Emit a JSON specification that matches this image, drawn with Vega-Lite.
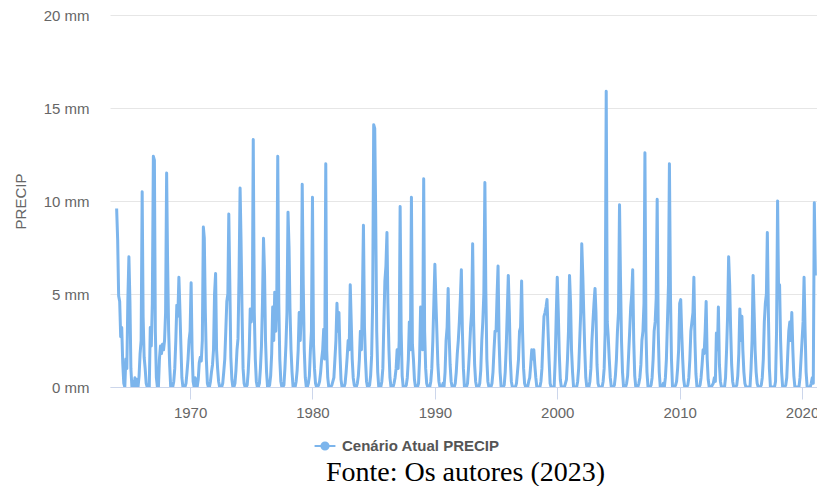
{
"$schema":"https://vega.github.io/schema/vega-lite/v6.json",
"width":707,"height":372,
"autosize":"none",
"padding":{"left":110,"top":15,"right":0,"bottom":99},
"background":"white",
"data":{"values":[
{"t":"1964-01","p":9.6},{"t":"1964-02","p":7.9},{"t":"1964-03","p":4.9},{"t":"1964-04","p":4.6},{"t":"1964-05","p":2.7},{"t":"1964-06","p":3.2},{"t":"1964-07","p":1.3},{"t":"1964-08","p":0.2},{"t":"1964-09","p":0.0},{"t":"1964-10","p":1.5},{"t":"1964-11","p":1.0},{"t":"1964-12","p":4.7},
{"t":"1965-01","p":7.0},{"t":"1965-02","p":4.6},{"t":"1965-03","p":1.0},{"t":"1965-04","p":0.0},{"t":"1965-05","p":0.3},{"t":"1965-06","p":0.0},{"t":"1965-07","p":0.5},{"t":"1965-08","p":0.0},{"t":"1965-09","p":0.4},{"t":"1965-10","p":0.0},{"t":"1965-11","p":0.6},{"t":"1965-12","p":1.8},
{"t":"1966-01","p":2.5},{"t":"1966-02","p":10.5},{"t":"1966-03","p":3.8},{"t":"1966-04","p":1.6},{"t":"1966-05","p":1.0},{"t":"1966-06","p":0.2},{"t":"1966-07","p":0.0},{"t":"1966-08","p":0.0},{"t":"1966-09","p":0.0},{"t":"1966-10","p":3.2},{"t":"1966-11","p":2.2},{"t":"1966-12","p":4.5},
{"t":"1967-01","p":12.4},{"t":"1967-02","p":12.2},{"t":"1967-03","p":3.0},{"t":"1967-04","p":0.5},{"t":"1967-05","p":0.0},{"t":"1967-06","p":0.0},{"t":"1967-07","p":1.5},{"t":"1967-08","p":2.2},{"t":"1967-09","p":1.8},{"t":"1967-10","p":2.3},{"t":"1967-11","p":2.0},{"t":"1967-12","p":2.5},
{"t":"1968-01","p":4.0},{"t":"1968-02","p":11.5},{"t":"1968-03","p":6.7},{"t":"1968-04","p":3.0},{"t":"1968-05","p":1.2},{"t":"1968-06","p":0.0},{"t":"1968-07","p":0.0},{"t":"1968-08","p":0.0},{"t":"1968-09","p":0.3},{"t":"1968-10","p":1.0},{"t":"1968-11","p":2.5},{"t":"1968-12","p":4.4},
{"t":"1969-01","p":3.8},{"t":"1969-02","p":5.9},{"t":"1969-03","p":4.3},{"t":"1969-04","p":2.3},{"t":"1969-05","p":0.5},{"t":"1969-06","p":0.0},{"t":"1969-07","p":0.0},{"t":"1969-08","p":0.0},{"t":"1969-09","p":0.2},{"t":"1969-10","p":0.8},{"t":"1969-11","p":1.5},{"t":"1969-12","p":2.5},
{"t":"1970-01","p":3.0},{"t":"1970-02","p":5.6},{"t":"1970-03","p":2.0},{"t":"1970-04","p":0.3},{"t":"1970-05","p":0.0},{"t":"1970-06","p":0.5},{"t":"1970-07","p":0.1},{"t":"1970-08","p":0.0},{"t":"1970-09","p":0.4},{"t":"1970-10","p":1.3},{"t":"1970-11","p":1.6},{"t":"1970-12","p":1.4},
{"t":"1971-01","p":2.5},{"t":"1971-02","p":8.6},{"t":"1971-03","p":8.0},{"t":"1971-04","p":4.0},{"t":"1971-05","p":1.5},{"t":"1971-06","p":0.2},{"t":"1971-07","p":0.0},{"t":"1971-08","p":0.0},{"t":"1971-09","p":0.3},{"t":"1971-10","p":0.8},{"t":"1971-11","p":1.2},{"t":"1971-12","p":2.0},
{"t":"1972-01","p":5.0},{"t":"1972-02","p":6.1},{"t":"1972-03","p":2.0},{"t":"1972-04","p":1.0},{"t":"1972-05","p":0.3},{"t":"1972-06","p":0.0},{"t":"1972-07","p":0.0},{"t":"1972-08","p":0.0},{"t":"1972-09","p":0.2},{"t":"1972-10","p":0.8},{"t":"1972-11","p":1.5},{"t":"1972-12","p":3.0},
{"t":"1973-01","p":4.6},{"t":"1973-02","p":5.0},{"t":"1973-03","p":9.3},{"t":"1973-04","p":5.5},{"t":"1973-05","p":1.6},{"t":"1973-06","p":0.4},{"t":"1973-07","p":0.0},{"t":"1973-08","p":0.0},{"t":"1973-09","p":0.2},{"t":"1973-10","p":0.9},{"t":"1973-11","p":2.0},{"t":"1973-12","p":2.6},
{"t":"1974-01","p":6.0},{"t":"1974-02","p":10.7},{"t":"1974-03","p":7.9},{"t":"1974-04","p":4.0},{"t":"1974-05","p":1.0},{"t":"1974-06","p":0.2},{"t":"1974-07","p":0.0},{"t":"1974-08","p":0.0},{"t":"1974-09","p":0.1},{"t":"1974-10","p":0.8},{"t":"1974-11","p":2.0},{"t":"1974-12","p":4.2},
{"t":"1975-01","p":3.5},{"t":"1975-02","p":4.2},{"t":"1975-03","p":13.3},{"t":"1975-04","p":4.0},{"t":"1975-05","p":1.5},{"t":"1975-06","p":0.3},{"t":"1975-07","p":0.0},{"t":"1975-08","p":0.0},{"t":"1975-09","p":0.2},{"t":"1975-10","p":1.0},{"t":"1975-11","p":2.2},{"t":"1975-12","p":4.5},
{"t":"1976-01","p":8.0},{"t":"1976-02","p":6.1},{"t":"1976-03","p":2.5},{"t":"1976-04","p":0.8},{"t":"1976-05","p":0.0},{"t":"1976-06","p":0.0},{"t":"1976-07","p":0.1},{"t":"1976-08","p":0.6},{"t":"1976-09","p":1.8},{"t":"1976-10","p":4.3},{"t":"1976-11","p":2.5},{"t":"1976-12","p":5.1},
{"t":"1977-01","p":3.0},{"t":"1977-02","p":5.0},{"t":"1977-03","p":12.4},{"t":"1977-04","p":4.5},{"t":"1977-05","p":1.5},{"t":"1977-06","p":0.3},{"t":"1977-07","p":0.0},{"t":"1977-08","p":0.0},{"t":"1977-09","p":0.1},{"t":"1977-10","p":1.0},{"t":"1977-11","p":2.3},{"t":"1977-12","p":4.0},
{"t":"1978-01","p":9.4},{"t":"1978-02","p":7.5},{"t":"1978-03","p":4.2},{"t":"1978-04","p":2.0},{"t":"1978-05","p":0.8},{"t":"1978-06","p":0.0},{"t":"1978-07","p":0.0},{"t":"1978-08","p":0.0},{"t":"1978-09","p":0.3},{"t":"1978-10","p":0.9},{"t":"1978-11","p":2.0},{"t":"1978-12","p":4.0},
{"t":"1979-01","p":2.5},{"t":"1979-02","p":4.0},{"t":"1979-03","p":10.9},{"t":"1979-04","p":5.5},{"t":"1979-05","p":2.0},{"t":"1979-06","p":0.5},{"t":"1979-07","p":0.0},{"t":"1979-08","p":0.0},{"t":"1979-09","p":0.2},{"t":"1979-10","p":0.6},{"t":"1979-11","p":2.0},{"t":"1979-12","p":3.0},
{"t":"1980-01","p":10.2},{"t":"1980-02","p":2.3},{"t":"1980-03","p":1.0},{"t":"1980-04","p":0.2},{"t":"1980-05","p":0.0},{"t":"1980-06","p":0.0},{"t":"1980-07","p":0.1},{"t":"1980-08","p":0.3},{"t":"1980-09","p":0.8},{"t":"1980-10","p":1.5},{"t":"1980-11","p":2.0},{"t":"1980-12","p":3.1},
{"t":"1981-01","p":1.5},{"t":"1981-02","p":12.0},{"t":"1981-03","p":2.0},{"t":"1981-04","p":0.5},{"t":"1981-05","p":0.0},{"t":"1981-06","p":0.0},{"t":"1981-07","p":0.0},{"t":"1981-08","p":0.1},{"t":"1981-09","p":0.3},{"t":"1981-10","p":0.5},{"t":"1981-11","p":1.5},{"t":"1981-12","p":2.5},
{"t":"1982-01","p":4.5},{"t":"1982-02","p":3.0},{"t":"1982-03","p":4.0},{"t":"1982-04","p":1.8},{"t":"1982-05","p":0.4},{"t":"1982-06","p":0.0},{"t":"1982-07","p":0.0},{"t":"1982-08","p":0.0},{"t":"1982-09","p":0.2},{"t":"1982-10","p":0.8},{"t":"1982-11","p":1.6},{"t":"1982-12","p":2.5},
{"t":"1983-01","p":2.0},{"t":"1983-02","p":5.5},{"t":"1983-03","p":3.6},{"t":"1983-04","p":1.5},{"t":"1983-05","p":0.5},{"t":"1983-06","p":0.1},{"t":"1983-07","p":0.0},{"t":"1983-08","p":0.0},{"t":"1983-09","p":0.2},{"t":"1983-10","p":0.6},{"t":"1983-11","p":1.5},{"t":"1983-12","p":3.0},
{"t":"1984-01","p":2.0},{"t":"1984-02","p":5.0},{"t":"1984-03","p":8.7},{"t":"1984-04","p":3.2},{"t":"1984-05","p":1.5},{"t":"1984-06","p":0.3},{"t":"1984-07","p":0.0},{"t":"1984-08","p":0.0},{"t":"1984-09","p":0.1},{"t":"1984-10","p":0.6},{"t":"1984-11","p":1.7},{"t":"1984-12","p":4.5},
{"t":"1985-01","p":14.1},{"t":"1985-02","p":13.9},{"t":"1985-03","p":9.4},{"t":"1985-04","p":3.0},{"t":"1985-05","p":0.8},{"t":"1985-06","p":0.0},{"t":"1985-07","p":0.0},{"t":"1985-08","p":0.0},{"t":"1985-09","p":0.3},{"t":"1985-10","p":1.0},{"t":"1985-11","p":3.5},{"t":"1985-12","p":5.7},
{"t":"1986-01","p":6.5},{"t":"1986-02","p":8.3},{"t":"1986-03","p":4.5},{"t":"1986-04","p":2.0},{"t":"1986-05","p":0.5},{"t":"1986-06","p":0.0},{"t":"1986-07","p":0.0},{"t":"1986-08","p":0.0},{"t":"1986-09","p":0.2},{"t":"1986-10","p":0.5},{"t":"1986-11","p":1.0},{"t":"1986-12","p":2.0},
{"t":"1987-01","p":1.0},{"t":"1987-02","p":2.5},{"t":"1987-03","p":9.7},{"t":"1987-04","p":3.0},{"t":"1987-05","p":0.6},{"t":"1987-06","p":0.0},{"t":"1987-07","p":0.0},{"t":"1987-08","p":0.0},{"t":"1987-09","p":0.1},{"t":"1987-10","p":0.5},{"t":"1987-11","p":1.5},{"t":"1987-12","p":3.5},
{"t":"1988-01","p":2.0},{"t":"1988-02","p":10.2},{"t":"1988-03","p":2.3},{"t":"1988-04","p":1.5},{"t":"1988-05","p":0.4},{"t":"1988-06","p":0.0},{"t":"1988-07","p":0.0},{"t":"1988-08","p":0.0},{"t":"1988-09","p":0.2},{"t":"1988-10","p":1.5},{"t":"1988-11","p":4.3},{"t":"1988-12","p":3.0},
{"t":"1989-01","p":2.0},{"t":"1989-02","p":11.2},{"t":"1989-03","p":3.0},{"t":"1989-04","p":1.0},{"t":"1989-05","p":0.2},{"t":"1989-06","p":0.0},{"t":"1989-07","p":0.0},{"t":"1989-08","p":0.0},{"t":"1989-09","p":0.3},{"t":"1989-10","p":1.0},{"t":"1989-11","p":2.5},{"t":"1989-12","p":4.5},
{"t":"1990-01","p":6.6},{"t":"1990-02","p":4.6},{"t":"1990-03","p":3.0},{"t":"1990-04","p":1.2},{"t":"1990-05","p":0.3},{"t":"1990-06","p":0.0},{"t":"1990-07","p":0.0},{"t":"1990-08","p":0.0},{"t":"1990-09","p":0.2},{"t":"1990-10","p":0.0},{"t":"1990-11","p":0.8},{"t":"1990-12","p":2.5},
{"t":"1991-01","p":3.2},{"t":"1991-02","p":5.3},{"t":"1991-03","p":2.8},{"t":"1991-04","p":1.2},{"t":"1991-05","p":0.3},{"t":"1991-06","p":0.0},{"t":"1991-07","p":0.0},{"t":"1991-08","p":0.0},{"t":"1991-09","p":0.2},{"t":"1991-10","p":0.8},{"t":"1991-11","p":1.8},{"t":"1991-12","p":2.5},
{"t":"1992-01","p":3.5},{"t":"1992-02","p":4.8},{"t":"1992-03","p":6.3},{"t":"1992-04","p":3.0},{"t":"1992-05","p":1.0},{"t":"1992-06","p":0.0},{"t":"1992-07","p":0.0},{"t":"1992-08","p":0.0},{"t":"1992-09","p":0.2},{"t":"1992-10","p":1.0},{"t":"1992-11","p":2.0},{"t":"1992-12","p":3.2},
{"t":"1993-01","p":4.0},{"t":"1993-02","p":7.7},{"t":"1993-03","p":3.6},{"t":"1993-04","p":1.2},{"t":"1993-05","p":0.3},{"t":"1993-06","p":0.0},{"t":"1993-07","p":0.0},{"t":"1993-08","p":0.0},{"t":"1993-09","p":0.2},{"t":"1993-10","p":0.9},{"t":"1993-11","p":2.5},{"t":"1993-12","p":3.5},
{"t":"1994-01","p":5.0},{"t":"1994-02","p":11.0},{"t":"1994-03","p":5.2},{"t":"1994-04","p":1.5},{"t":"1994-05","p":0.3},{"t":"1994-06","p":0.0},{"t":"1994-07","p":0.0},{"t":"1994-08","p":0.0},{"t":"1994-09","p":0.2},{"t":"1994-10","p":0.8},{"t":"1994-11","p":2.0},{"t":"1994-12","p":3.0},
{"t":"1995-01","p":3.0},{"t":"1995-02","p":5.0},{"t":"1995-03","p":6.5},{"t":"1995-04","p":2.5},{"t":"1995-05","p":0.8},{"t":"1995-06","p":0.0},{"t":"1995-07","p":0.0},{"t":"1995-08","p":0.0},{"t":"1995-09","p":0.1},{"t":"1995-10","p":0.8},{"t":"1995-11","p":2.2},{"t":"1995-12","p":4.0},
{"t":"1996-01","p":6.0},{"t":"1996-02","p":4.0},{"t":"1996-03","p":1.5},{"t":"1996-04","p":0.3},{"t":"1996-05","p":0.0},{"t":"1996-06","p":0.0},{"t":"1996-07","p":0.0},{"t":"1996-08","p":0.0},{"t":"1996-09","p":0.2},{"t":"1996-10","p":0.8},{"t":"1996-11","p":1.5},{"t":"1996-12","p":3.0},
{"t":"1997-01","p":3.2},{"t":"1997-02","p":5.7},{"t":"1997-03","p":3.0},{"t":"1997-04","p":1.0},{"t":"1997-05","p":0.2},{"t":"1997-06","p":0.0},{"t":"1997-07","p":0.0},{"t":"1997-08","p":0.0},{"t":"1997-09","p":0.3},{"t":"1997-10","p":0.5},{"t":"1997-11","p":1.2},{"t":"1997-12","p":2.0},
{"t":"1998-01","p":1.5},{"t":"1998-02","p":2.0},{"t":"1998-03","p":1.2},{"t":"1998-04","p":0.5},{"t":"1998-05","p":0.0},{"t":"1998-06","p":0.0},{"t":"1998-07","p":0.0},{"t":"1998-08","p":0.0},{"t":"1998-09","p":0.3},{"t":"1998-10","p":1.0},{"t":"1998-11","p":2.5},{"t":"1998-12","p":3.8},
{"t":"1999-01","p":4.0},{"t":"1999-02","p":4.3},{"t":"1999-03","p":4.7},{"t":"1999-04","p":3.0},{"t":"1999-05","p":1.5},{"t":"1999-06","p":0.2},{"t":"1999-07","p":0.0},{"t":"1999-08","p":0.0},{"t":"1999-09","p":0.0},{"t":"1999-10","p":0.0},{"t":"1999-11","p":1.5},{"t":"1999-12","p":3.8},
{"t":"2000-01","p":5.9},{"t":"2000-02","p":4.0},{"t":"2000-03","p":1.8},{"t":"2000-04","p":0.4},{"t":"2000-05","p":0.0},{"t":"2000-06","p":0.0},{"t":"2000-07","p":0.0},{"t":"2000-08","p":0.0},{"t":"2000-09","p":0.2},{"t":"2000-10","p":0.4},{"t":"2000-11","p":1.5},{"t":"2000-12","p":3.0},
{"t":"2001-01","p":6.0},{"t":"2001-02","p":4.5},{"t":"2001-03","p":2.0},{"t":"2001-04","p":0.8},{"t":"2001-05","p":0.0},{"t":"2001-06","p":0.0},{"t":"2001-07","p":0.0},{"t":"2001-08","p":0.0},{"t":"2001-09","p":0.3},{"t":"2001-10","p":1.0},{"t":"2001-11","p":2.5},{"t":"2001-12","p":4.0},
{"t":"2002-01","p":7.7},{"t":"2002-02","p":6.0},{"t":"2002-03","p":4.0},{"t":"2002-04","p":2.0},{"t":"2002-05","p":0.5},{"t":"2002-06","p":0.0},{"t":"2002-07","p":0.0},{"t":"2002-08","p":0.0},{"t":"2002-09","p":0.3},{"t":"2002-10","p":1.0},{"t":"2002-11","p":2.5},{"t":"2002-12","p":3.5},
{"t":"2003-01","p":4.5},{"t":"2003-02","p":5.3},{"t":"2003-03","p":4.0},{"t":"2003-04","p":1.2},{"t":"2003-05","p":0.2},{"t":"2003-06","p":0.0},{"t":"2003-07","p":0.0},{"t":"2003-08","p":0.0},{"t":"2003-09","p":0.0},{"t":"2003-10","p":0.3},{"t":"2003-11","p":1.0},{"t":"2003-12","p":3.0},
{"t":"2004-01","p":15.9},{"t":"2004-02","p":3.5},{"t":"2004-03","p":2.7},{"t":"2004-04","p":1.5},{"t":"2004-05","p":0.5},{"t":"2004-06","p":0.0},{"t":"2004-07","p":0.0},{"t":"2004-08","p":0.0},{"t":"2004-09","p":0.1},{"t":"2004-10","p":0.6},{"t":"2004-11","p":1.5},{"t":"2004-12","p":3.0},
{"t":"2005-01","p":4.0},{"t":"2005-02","p":9.8},{"t":"2005-03","p":5.9},{"t":"2005-04","p":2.5},{"t":"2005-05","p":0.8},{"t":"2005-06","p":0.0},{"t":"2005-07","p":0.0},{"t":"2005-08","p":0.0},{"t":"2005-09","p":0.2},{"t":"2005-10","p":0.6},{"t":"2005-11","p":1.8},{"t":"2005-12","p":3.0},
{"t":"2006-01","p":4.3},{"t":"2006-02","p":5.0},{"t":"2006-03","p":6.3},{"t":"2006-04","p":2.5},{"t":"2006-05","p":0.6},{"t":"2006-06","p":0.0},{"t":"2006-07","p":0.0},{"t":"2006-08","p":0.0},{"t":"2006-09","p":0.2},{"t":"2006-10","p":0.5},{"t":"2006-11","p":1.2},{"t":"2006-12","p":2.5},
{"t":"2007-01","p":3.0},{"t":"2007-02","p":4.5},{"t":"2007-03","p":12.6},{"t":"2007-04","p":3.0},{"t":"2007-05","p":0.8},{"t":"2007-06","p":0.0},{"t":"2007-07","p":0.0},{"t":"2007-08","p":0.0},{"t":"2007-09","p":0.1},{"t":"2007-10","p":0.5},{"t":"2007-11","p":1.5},{"t":"2007-12","p":3.0},
{"t":"2008-01","p":3.5},{"t":"2008-02","p":4.8},{"t":"2008-03","p":10.1},{"t":"2008-04","p":3.0},{"t":"2008-05","p":0.8},{"t":"2008-06","p":0.0},{"t":"2008-07","p":0.0},{"t":"2008-08","p":0.0},{"t":"2008-09","p":0.2},{"t":"2008-10","p":0.0},{"t":"2008-11","p":0.5},{"t":"2008-12","p":1.5},
{"t":"2009-01","p":3.5},{"t":"2009-02","p":5.5},{"t":"2009-03","p":12.0},{"t":"2009-04","p":5.0},{"t":"2009-05","p":1.5},{"t":"2009-06","p":0.0},{"t":"2009-07","p":0.0},{"t":"2009-08","p":0.0},{"t":"2009-09","p":0.1},{"t":"2009-10","p":0.3},{"t":"2009-11","p":1.0},{"t":"2009-12","p":2.0},
{"t":"2010-01","p":4.5},{"t":"2010-02","p":4.7},{"t":"2010-03","p":3.0},{"t":"2010-04","p":1.5},{"t":"2010-05","p":0.4},{"t":"2010-06","p":0.0},{"t":"2010-07","p":0.0},{"t":"2010-08","p":0.0},{"t":"2010-09","p":0.1},{"t":"2010-10","p":0.5},{"t":"2010-11","p":1.5},{"t":"2010-12","p":3.0},
{"t":"2011-01","p":3.5},{"t":"2011-02","p":4.0},{"t":"2011-03","p":5.9},{"t":"2011-04","p":2.5},{"t":"2011-05","p":0.7},{"t":"2011-06","p":0.0},{"t":"2011-07","p":0.0},{"t":"2011-08","p":0.0},{"t":"2011-09","p":0.1},{"t":"2011-10","p":0.5},{"t":"2011-11","p":1.2},{"t":"2011-12","p":2.0},
{"t":"2012-01","p":1.8},{"t":"2012-02","p":3.0},{"t":"2012-03","p":4.6},{"t":"2012-04","p":1.5},{"t":"2012-05","p":0.4},{"t":"2012-06","p":0.0},{"t":"2012-07","p":0.0},{"t":"2012-08","p":0.0},{"t":"2012-09","p":0.1},{"t":"2012-10","p":0.2},{"t":"2012-11","p":0.5},{"t":"2012-12","p":0.3},
{"t":"2013-01","p":2.9},{"t":"2013-02","p":2.0},{"t":"2013-03","p":4.3},{"t":"2013-04","p":1.2},{"t":"2013-05","p":0.3},{"t":"2013-06","p":0.0},{"t":"2013-07","p":0.0},{"t":"2013-08","p":0.0},{"t":"2013-09","p":0.0},{"t":"2013-10","p":0.5},{"t":"2013-11","p":2.0},{"t":"2013-12","p":3.8},
{"t":"2014-01","p":7.0},{"t":"2014-02","p":5.5},{"t":"2014-03","p":3.2},{"t":"2014-04","p":1.2},{"t":"2014-05","p":0.3},{"t":"2014-06","p":0.0},{"t":"2014-07","p":0.0},{"t":"2014-08","p":0.0},{"t":"2014-09","p":0.1},{"t":"2014-10","p":0.6},{"t":"2014-11","p":1.8},{"t":"2014-12","p":4.2},
{"t":"2015-01","p":2.5},{"t":"2015-02","p":3.8},{"t":"2015-03","p":2.0},{"t":"2015-04","p":0.8},{"t":"2015-05","p":0.2},{"t":"2015-06","p":0.0},{"t":"2015-07","p":0.0},{"t":"2015-08","p":0.0},{"t":"2015-09","p":0.0},{"t":"2015-10","p":0.0},{"t":"2015-11","p":1.0},{"t":"2015-12","p":2.5},
{"t":"2016-01","p":6.0},{"t":"2016-02","p":4.0},{"t":"2016-03","p":2.0},{"t":"2016-04","p":0.8},{"t":"2016-05","p":0.2},{"t":"2016-06","p":0.0},{"t":"2016-07","p":0.0},{"t":"2016-08","p":0.0},{"t":"2016-09","p":0.1},{"t":"2016-10","p":0.5},{"t":"2016-11","p":1.5},{"t":"2016-12","p":3.5},
{"t":"2017-01","p":4.5},{"t":"2017-02","p":5.0},{"t":"2017-03","p":8.3},{"t":"2017-04","p":4.0},{"t":"2017-05","p":1.0},{"t":"2017-06","p":0.0},{"t":"2017-07","p":0.0},{"t":"2017-08","p":0.0},{"t":"2017-09","p":0.0},{"t":"2017-10","p":0.0},{"t":"2017-11","p":0.3},{"t":"2017-12","p":3.0},
{"t":"2018-01","p":10.0},{"t":"2018-02","p":4.8},{"t":"2018-03","p":5.5},{"t":"2018-04","p":2.5},{"t":"2018-05","p":0.8},{"t":"2018-06","p":0.0},{"t":"2018-07","p":0.0},{"t":"2018-08","p":0.0},{"t":"2018-09","p":0.1},{"t":"2018-10","p":0.5},{"t":"2018-11","p":1.8},{"t":"2018-12","p":3.0},
{"t":"2019-01","p":3.5},{"t":"2019-02","p":2.5},{"t":"2019-03","p":4.0},{"t":"2019-04","p":2.0},{"t":"2019-05","p":0.6},{"t":"2019-06","p":0.0},{"t":"2019-07","p":0.0},{"t":"2019-08","p":0.0},{"t":"2019-09","p":0.0},{"t":"2019-10","p":0.0},{"t":"2019-11","p":0.5},{"t":"2019-12","p":1.5},
{"t":"2020-01","p":2.5},{"t":"2020-02","p":3.5},{"t":"2020-03","p":5.9},{"t":"2020-04","p":3.0},{"t":"2020-05","p":0.8},{"t":"2020-06","p":0.0},{"t":"2020-07","p":0.0},{"t":"2020-08","p":0.0},{"t":"2020-09","p":0.0},{"t":"2020-10","p":0.2},{"t":"2020-11","p":0.5},{"t":"2020-12","p":0.2},
{"t":"2021-01","p":9.9},{"t":"2021-02","p":6.0}
]},
"mark":{"type":"line","color":"#7cb5ec","strokeWidth":3,"clip":true,"strokeJoin":"round"},
"encoding":{
"x":{"field":"t","type":"temporal",
"scale":{"domain":[{"year":1963,"month":6,"date":17},{"year":2021,"month":3,"date":22}]},
"axis":{"title":"Fonte: Os autores (2023)","titleFont":"Liberation Serif","titleFontSize":28,"titleFontWeight":"normal","titleColor":"#000000","titleX":355,"titleY":93,"titleAlign":"center","titleBaseline":"alphabetic","titleAnchor":null,
"format":"%Y","tickCount":{"interval":"year","step":10},"grid":false,"domain":true,"domainColor":"#ccd6eb","domainWidth":1,"ticks":true,"tickColor":"#ccd6eb","tickSize":12,"labelFont":"Liberation Sans","labelFontSize":15,"labelColor":"#666666","labelPadding":6,"labelFlush":false,"labelOverlap":false}},
"y":{"field":"p","type":"quantitative",
"scale":{"domain":[0,20],"nice":false},
"axis":{"values":[0,5,10,15,20],"labelExpr":"datum.value + ' mm'","grid":true,"gridColor":"#e6e6e6","gridWidth":1,"domain":false,"ticks":false,"labelFont":"Liberation Sans","labelFontSize":15,"labelColor":"#666666","labelPadding":21,
"title":"PRECIP","titleFont":"Liberation Sans","titleFontSize":15,"titleFontWeight":"normal","titleColor":"#666666","titleX":-90,"titleY":186,"titleAngle":-90,"titleAlign":"center","titleBaseline":"middle"}},
"color":{"datum":"Cenário Atual PRECIP","type":"nominal","scale":{"range":["#7cb5ec"]},
"legend":{"orient":"none","legendX":207,"legendY":423,"title":null,"symbolType":"M-1.6,0L1.6,0M-0.55,0A0.55,0.55 0 1,0 0.55,0A0.55,0.55 0 1,0 -0.55,0","symbolSize":170,"symbolStrokeWidth":2,"symbolFillColor":"#7cb5ec","symbolStrokeColor":"#7cb5ec","labelFont":"Liberation Sans","labelFontSize":15,"labelFontWeight":"bold","labelColor":"#555555","labelOffset":9,"labelLimit":400}}
},
"config":{"view":{"stroke":null}}
}
